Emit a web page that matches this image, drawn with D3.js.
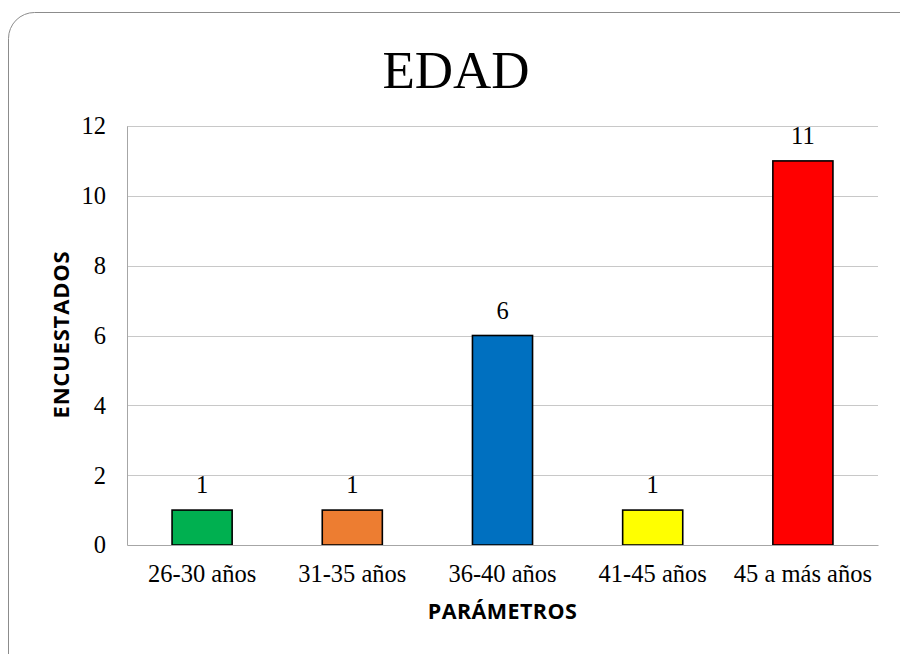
<!DOCTYPE html>
<html lang="es">
<head>
<meta charset="utf-8">
<title>EDAD</title>
<script src="https://d3js.org/d3.v7.min.js"></script>
<style>
  body { margin: 0; background: #fff; }
  svg { display: block; }
</style>
</head>
<body>
<script>
// data
var categories = ["26-30 años", "31-35 años", "36-40 años", "41-45 años", "45 a más años"];
var values = [1, 1, 6, 1, 11];
var barColors = ["#00b050", "#ed7d31", "#0070c0", "#ffff00", "#ff0000"];
var yTicks = [0, 2, 4, 6, 8, 10, 12];

var W = 900, H = 654;
var margin = {top: 126, right: 22, bottom: 109, left: 127};
var w = W - margin.left - margin.right;
var h = H - margin.top - margin.bottom;

var serif = "'Liberation Serif', 'Times New Roman', serif";
var sans = "'Open Sans', 'Liberation Sans', sans-serif";

var svg = d3.select("body").append("svg")
    .attr("width", W)
    .attr("height", H);

// rounded frame, runs off the page on right and bottom
svg.append("rect")
    .attr("x", 8.5).attr("y", 12.5)
    .attr("width", 920).attr("height", 680)
    .attr("rx", 26).attr("ry", 26)
    .attr("fill", "none")
    .attr("stroke", "#8c8c8c")
    .attr("stroke-width", 1);

// title
svg.append("text")
    .attr("x", 456).attr("y", 88)
    .attr("text-anchor", "middle")
    .style("font-family", serif)
    .style("font-size", "53px")
    .text("EDAD");

var g = svg.append("g")
    .attr("transform", "translate(" + margin.left + "," + margin.top + ")");

var x = d3.scaleBand().domain(categories).range([0, w]).paddingInner(0.6).paddingOuter(0.3);
var y = d3.scaleLinear().domain([0, 12]).range([h, 0]);

// gridlines
g.selectAll(".grid").data(yTicks.filter(function(d) { return d > 0; }))
  .enter().append("line")
    .attr("x1", 0).attr("x2", w)
    .attr("y1", function(d) { return Math.round(y(d)) + 0.5; })
    .attr("y2", function(d) { return Math.round(y(d)) + 0.5; })
    .attr("stroke", "#c8c8c8")
    .attr("stroke-width", 1);

// y axis
var yAxis = g.append("g")
    .call(d3.axisLeft(y).tickValues(yTicks).tickSize(0).tickPadding(21));
yAxis.select(".domain").attr("stroke", "#a6a6a6");
yAxis.selectAll("text")
    .style("font-family", serif)
    .style("font-size", "24.5px")
    .attr("fill", "#000");

// bars
g.selectAll(".bar").data(values)
  .enter().append("rect")
    .attr("x", function(d, i) { return x(categories[i]); })
    .attr("y", function(d) { return y(d); })
    .attr("width", x.bandwidth())
    .attr("height", function(d) { return h - y(d); })
    .attr("fill", function(d, i) { return barColors[i]; })
    .attr("stroke", "#000")
    .attr("stroke-width", 1.6);

// x axis (baseline)
var xAxis = g.append("g")
    .attr("transform", "translate(0," + h + ")")
    .call(d3.axisBottom(x).tickSize(0).tickPadding(19.5));
xAxis.select(".domain").attr("stroke", "#a6a6a6");
xAxis.selectAll("text")
    .style("font-family", serif)
    .style("font-size", "24.5px")
    .attr("fill", "#000");

// value labels
g.selectAll(".val").data(values)
  .enter().append("text")
    .attr("x", function(d, i) { return x(categories[i]) + x.bandwidth() / 2; })
    .attr("y", function(d) { return y(d) - 17; })
    .attr("text-anchor", "middle")
    .style("font-family", serif)
    .style("font-size", "24.5px")
    .text(function(d) { return d; });

// axis titles
svg.append("text")
    .attr("x", margin.left + w / 2).attr("y", 619)
    .attr("text-anchor", "middle")
    .style("font-family", sans)
    .style("font-weight", "bold")
    .style("font-size", "21.5px")
    .style("letter-spacing", "0.4px")
    .text("PARÁMETROS");

svg.append("text")
    .attr("transform", "translate(69," + (margin.top + h / 2 - 1) + ") rotate(-90)")
    .attr("text-anchor", "middle")
    .style("font-family", sans)
    .style("font-weight", "bold")
    .style("font-size", "22px")
    .style("letter-spacing", "0.8px")
    .text("ENCUESTADOS");
</script>
</body>
</html>
